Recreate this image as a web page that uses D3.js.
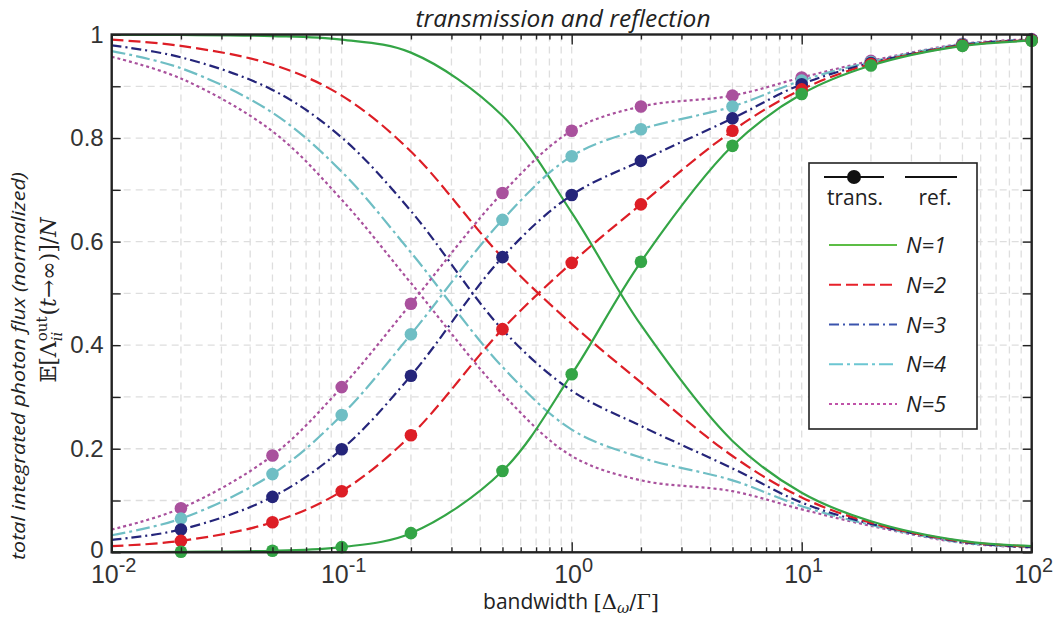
<!DOCTYPE html>
<html><head><meta charset="utf-8">
<script src="https://cdn.jsdelivr.net/npm/d3@7/dist/d3.min.js"></script>
<style>body{margin:0;background:#fff}svg{display:block}</style>
</head><body>
<svg id="c" width="1057" height="617"></svg>
<script>
// ---------- data ----------
const bandwidth = [0.01, 0.02, 0.05, 0.1, 0.2, 0.5, 1, 2, 5, 10, 20, 50, 100];
const markerBandwidth = [0.02, 0.05, 0.1, 0.2, 0.5, 1, 2, 5, 10, 20, 50, 100];
const seriesNames = ["N=1", "N=2", "N=3", "N=4", "N=5"];

const transN1 = [0.000, 0.001, 0.003, 0.010, 0.037, 0.157, 0.344, 0.561, 0.785, 0.885, 0.940, 0.978, 0.988];
const transN2 = [0.012, 0.022, 0.058, 0.118, 0.226, 0.431, 0.559, 0.672, 0.814, 0.894, 0.943, 0.979, 0.989];
const transN3 = [0.024, 0.044, 0.107, 0.199, 0.341, 0.570, 0.690, 0.756, 0.838, 0.904, 0.945, 0.980, 0.990];
const transN4 = [0.033, 0.065, 0.151, 0.265, 0.421, 0.642, 0.765, 0.817, 0.861, 0.911, 0.947, 0.981, 0.990];
const transN5 = [0.044, 0.085, 0.187, 0.319, 0.480, 0.694, 0.814, 0.861, 0.882, 0.917, 0.949, 0.982, 0.991];

const reflN1 = [0.999, 0.999, 0.997, 0.990, 0.965, 0.843, 0.656, 0.439, 0.215, 0.115, 0.060, 0.022, 0.012];
const reflN2 = [0.990, 0.978, 0.942, 0.882, 0.774, 0.569, 0.441, 0.328, 0.186, 0.106, 0.057, 0.021, 0.011];
const reflN3 = [0.979, 0.956, 0.893, 0.801, 0.659, 0.430, 0.312, 0.244, 0.162, 0.096, 0.055, 0.020, 0.010];
const reflN4 = [0.968, 0.935, 0.849, 0.735, 0.579, 0.358, 0.237, 0.183, 0.139, 0.089, 0.053, 0.019, 0.010];
const reflN5 = [0.957, 0.915, 0.813, 0.681, 0.520, 0.306, 0.186, 0.139, 0.118, 0.083, 0.051, 0.018, 0.009];

const yTickValues = [0, 0.1, 0.2, 0.3, 0.4, 0.5, 0.6, 0.7, 0.8, 0.9, 1];
const yTickLabels = ["0", "", "0.2", "", "0.4", "", "0.6", "", "0.8", "", "1"];
const xMajorTicks = [0.01, 0.1, 1, 10, 100];
const xTickExponents = ["-2", "-1", "0", "1", "2"];

// ---------- styles ----------
const colors = ["#34a546", "#dd1e26", "#25257a", "#6fbec4", "#a9519d"];
const legendColors = ["#5cbd45", "#e7212a", "#3b54ad", "#6cc6d2", "#c052a8"];
const dashes = ["none", "12,5", "10,4,2,4", "14,4,3,4", "3,3"];

const transSeries = [transN1, transN2, transN3, transN4, transN5];
const reflSeries = [reflN1, reflN2, reflN3, reflN4, reflN5];

const L = 111.7, R = 1031.7, T = 34.5, B = 552.3;
const svg = d3.select("#c");
const x = d3.scaleLog().domain([0.01, 100]).range([L, R]);
const y = d3.scaleLinear().domain([0, 1]).range([B, T]);

svg.append("defs").append("clipPath").attr("id", "clip")
  .append("rect").attr("x", L).attr("y", T).attr("width", R - L).attr("height", B - T);

// grid
const grid = svg.append("g");
const xGridVals = x.ticks().filter(v => v > 0.0100001 && v < 99.999);
grid.selectAll("line.gx").data(xGridVals).join("line")
  .attr("x1", d => x(d)).attr("x2", d => x(d)).attr("y1", T).attr("y2", B)
  .attr("stroke", "#dedede").attr("stroke-width", 1.3).attr("stroke-dasharray", "7,5");
grid.selectAll("line.gy").data(yTickValues.filter(v => v > 0 && v < 1)).join("line")
  .attr("y1", d => y(d)).attr("y2", d => y(d)).attr("x1", L).attr("x2", R)
  .attr("stroke", "#dedede").attr("stroke-width", 1.3).attr("stroke-dasharray", "7,5");

// curves
const line = d3.line().x(d => x(d[0])).y(d => y(d[1])).curve(d3.curveCatmullRom.alpha(0.5));
const plot = svg.append("g").attr("clip-path", "url(#clip)");
for (let i = 4; i >= 0; i--) {
  plot.append("path").datum(bandwidth.map((b, k) => [b, reflSeries[i][k]]))
    .attr("d", line).attr("fill", "none").attr("stroke", colors[i]).attr("stroke-width", 2.2)
    .attr("stroke-dasharray", dashes[i]);
}
for (let i = 4; i >= 0; i--) {
  plot.append("path").datum(bandwidth.map((b, k) => [b, transSeries[i][k]]))
    .attr("d", line).attr("fill", "none").attr("stroke", colors[i]).attr("stroke-width", 2.2)
    .attr("stroke-dasharray", dashes[i]);
}
const markers = svg.append("g");
for (let i = 4; i >= 0; i--) {
  markers.selectAll(null).data(markerBandwidth.map((b) => [b, transSeries[i][bandwidth.indexOf(b)]]))
    .join("circle").attr("cx", d => x(d[0])).attr("cy", d => y(d[1])).attr("r", 6.3)
    .attr("fill", colors[i]);
}

// axes
const fontTick = "'Liberation Sans', Arial, sans-serif";
function styleAxis(g) {
  g.select(".domain").remove();
  g.selectAll(".tick line").attr("stroke", "#222").attr("stroke-width", 1.4);
}
const xMinor = x.ticks().filter(v => xMajorTicks.indexOf(v) < 0);
svg.append("g").attr("transform", `translate(0,${B})`)
  .call(d3.axisBottom(x).tickValues(xMinor).tickSize(-5).tickFormat(""))
  .call(styleAxis);
svg.append("g").attr("transform", `translate(0,${B})`)
  .call(d3.axisBottom(x).tickValues(xMajorTicks).tickSize(-10).tickFormat(""))
  .call(styleAxis);
svg.append("g").attr("transform", `translate(0,${T})`)
  .call(d3.axisTop(x).tickValues(xMinor).tickSize(-5).tickFormat(""))
  .call(styleAxis);
svg.append("g").attr("transform", `translate(0,${T})`)
  .call(d3.axisTop(x).tickValues(xMajorTicks).tickSize(-10).tickFormat(""))
  .call(styleAxis);
const yAx = svg.append("g").attr("transform", `translate(${L},0)`)
  .call(d3.axisLeft(y).tickValues(yTickValues).tickSize(-9).tickPadding(8)
    .tickFormat((d, i) => yTickLabels[i]))
  .call(styleAxis);
yAx.selectAll("text").attr("font-family", fontTick).attr("font-size", 24).attr("fill", "#333");
yAx.selectAll(".tick").filter(d => d === 0).select("text").attr("dy", "0.2em");
svg.append("g").attr("transform", `translate(${R},0)`)
  .call(d3.axisRight(y).tickValues(yTickValues).tickSize(-9).tickFormat(""))
  .call(styleAxis);

// frame
svg.append("rect").attr("x", L).attr("y", T).attr("width", R - L).attr("height", B - T)
  .attr("fill", "none").attr("stroke", "#222").attr("stroke-width", 2.4);

// x tick labels 10^e
const xl = svg.append("g").attr("font-family", fontTick).attr("fill", "#333");
xMajorTicks.forEach((v, i) => {
  const t = xl.append("text").attr("x", x(v) + 2).attr("y", 583).attr("text-anchor", "middle");
  t.append("tspan").attr("font-size", 25).text("10");
  t.append("tspan").attr("font-size", 20).attr("dy", -11).text(xTickExponents[i]);
});

// title
svg.append("text").attr("x", 563).attr("y", 27).attr("text-anchor", "middle")
  .attr("font-family", "'Open Sans', sans-serif").attr("font-style", "italic")
  .attr("font-size", 24.5).attr("fill", "#222").text("transmission and reflection");

// x label
const serif = "'DejaVu Serif', 'Liberation Serif', serif";
const xlab = svg.append("text").attr("x", 571).attr("y", 609).attr("text-anchor", "middle").attr("fill", "#222");
xlab.append("tspan").attr("font-family", "'Open Sans', sans-serif").attr("font-size", 21).text("bandwidth ");
xlab.append("tspan").attr("font-family", serif).attr("font-size", 21).text("[Δ");
xlab.append("tspan").attr("font-family", serif).attr("font-size", 15).attr("font-style", "italic").attr("dy", 4).text("ω");
xlab.append("tspan").attr("font-family", serif).attr("font-size", 21).attr("dy", -4).text("/Γ]");

// y labels
svg.append("text").attr("transform", "translate(25,366) rotate(-90)").attr("text-anchor", "middle")
  .attr("font-family", "'Open Sans', sans-serif").attr("font-style", "italic").attr("font-size", 19)
  .attr("textLength", 388).attr("lengthAdjust", "spacingAndGlyphs")
  .attr("fill", "#222").text("total integrated photon flux (normalized)");

function measure(txt, size, style) {
  const t = svg.append("text").attr("font-family", serif).attr("font-size", size)
    .attr("font-style", style || "normal").text(txt);
  const w = t.node().getComputedTextLength(); t.remove(); return w;
}
const wOut = measure("out", 15), wII = measure("ii", 15, "italic");
const ml = svg.append("text").attr("transform", "translate(56,300) rotate(-90)").attr("text-anchor", "middle")
  .attr("font-family", serif).attr("font-size", 22).attr("fill", "#222");
ml.append("tspan").text("𝔼[Λ");
ml.append("tspan").attr("font-size", 15).attr("dy", -9).text("out");
ml.append("tspan").attr("font-size", 15).attr("font-style", "italic").attr("dx", -wOut).attr("dy", 15).text("ii");
ml.append("tspan").attr("dx", Math.max(0, wOut - wII) + 1).attr("dy", -6).text("(");
ml.append("tspan").attr("font-style", "italic").text("t");
ml.append("tspan").text("→∞)]/");
ml.append("tspan").attr("font-style", "italic").text("N");

// legend
const lg = svg.append("g");
lg.append("rect").attr("x", 809).attr("y", 163).attr("width", 168).attr("height", 266)
  .attr("fill", "#fff").attr("stroke", "#222").attr("stroke-width", 1.6);
lg.append("line").attr("x1", 824).attr("x2", 884).attr("y1", 177).attr("y2", 177).attr("stroke", "#111").attr("stroke-width", 2.2);
lg.append("circle").attr("cx", 854).attr("cy", 177).attr("r", 7).attr("fill", "#111");
lg.append("line").attr("x1", 905).attr("x2", 957).attr("y1", 177).attr("y2", 177).attr("stroke", "#111").attr("stroke-width", 2.2);
lg.append("text").attr("x", 855).attr("y", 205).attr("text-anchor", "middle")
  .attr("font-family", "'Open Sans', sans-serif").attr("font-size", 21).attr("fill", "#222").text("trans.");
lg.append("text").attr("x", 935).attr("y", 205).attr("text-anchor", "middle")
  .attr("font-family", "'Open Sans', sans-serif").attr("font-size", 21).attr("fill", "#222").text("ref.");
const legY = d3.scalePoint().domain(seriesNames).range([245, 404]);
seriesNames.forEach((n, i) => {
  lg.append("line").attr("x1", 829).attr("x2", 897).attr("y1", legY(n)).attr("y2", legY(n))
    .attr("stroke", legendColors[i]).attr("stroke-width", 2.2).attr("stroke-dasharray", dashes[i]);
  lg.append("text").attr("x", 906).attr("y", legY(n) + 8)
    .attr("font-family", "'Open Sans', sans-serif").attr("font-style", "italic").attr("font-size", 22)
    .attr("fill", "#222").text(n);
});
</script>
</body></html>
